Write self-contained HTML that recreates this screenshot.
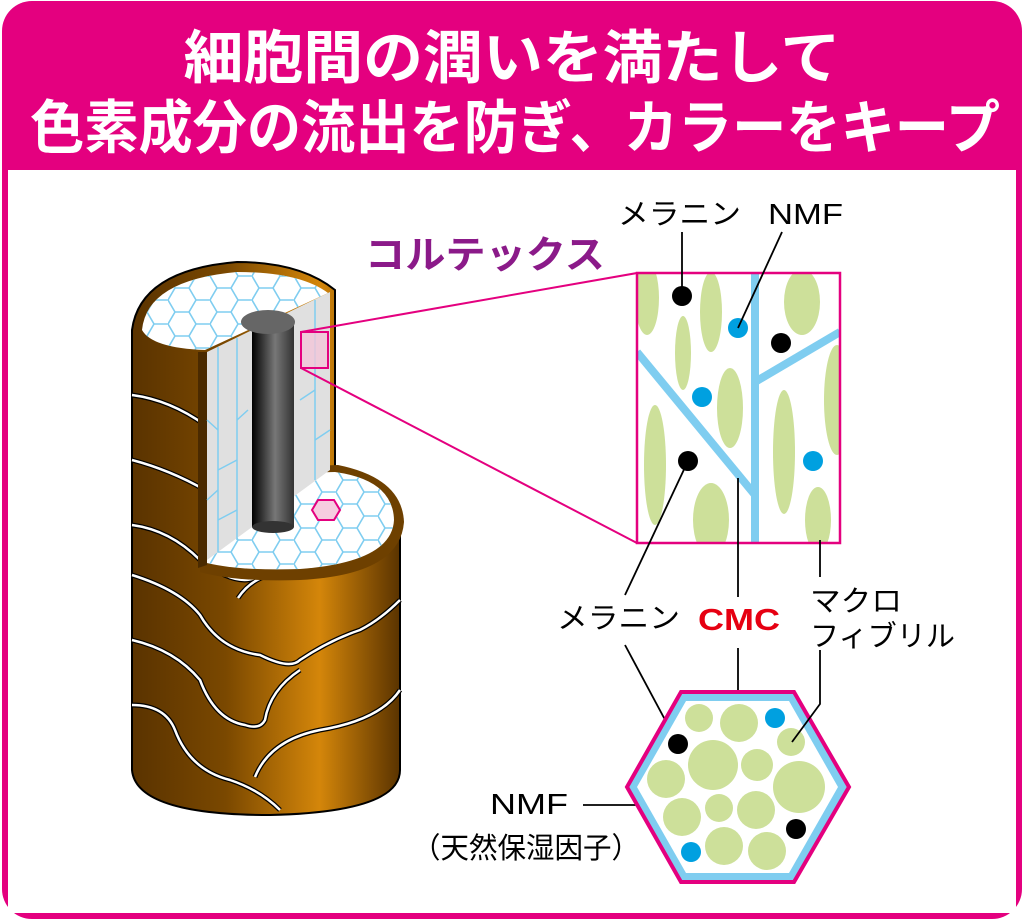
<!DOCTYPE html>
<html><head><meta charset="utf-8"><style>
html,body{margin:0;padding:0;background:#fff}
svg{display:block}
text{font-family:"Liberation Sans","Noto Sans CJK JP",sans-serif}
</style></head><body>
<svg width="1024" height="923" viewBox="0 0 1024 923" xmlns="http://www.w3.org/2000/svg">
<defs>
<pattern id="hex" width="42" height="24" patternUnits="userSpaceOnUse">
<path d="M0,12 L7,0 L21,0 L28,12 L21,24 L7,24 Z M28,12 L42,12" fill="none" stroke="#7fcdf0" stroke-width="1.6"/>
</pattern>
<linearGradient id="brown" x1="0" x2="1" y1="0" y2="0">
<stop offset="0" stop-color="#5a3300"/><stop offset="0.35" stop-color="#7a4800"/><stop offset="0.7" stop-color="#d4860a"/><stop offset="1" stop-color="#5a3300"/>
</linearGradient>
<linearGradient id="rod" x1="0" x2="1">
<stop offset="0" stop-color="#000"/><stop offset="0.55" stop-color="#777"/><stop offset="1" stop-color="#333"/>
</linearGradient>
<clipPath id="pc"><rect x="637" y="273" width="203" height="270"/></clipPath>
</defs>
<rect x="2" y="1" width="1020" height="918" rx="30" fill="#e4007f"/>
<rect x="8" y="170" width="1008" height="743" fill="#fff"/>
<text x="512" y="78" font-size="58" font-weight="bold" fill="#fff" text-anchor="middle" textLength="657" lengthAdjust="spacingAndGlyphs">細胞間の潤いを満たして</text>
<text x="515" y="148" font-size="58" font-weight="bold" fill="#fff" text-anchor="middle" textLength="970" lengthAdjust="spacingAndGlyphs">色素成分の流出を防ぎ、カラーをキープ</text>

<!-- cylinder -->
<path d="M132,330 L132,770 Q136,815 270,815 Q400,812 400,770 L400,520 L335,470 L335,290 Q300,262 237,262 Q140,270 132,330 Z" fill="url(#brown)" stroke="#000" stroke-width="2"/>
<g id="cr" fill="none" stroke="#000" stroke-width="5">
<path d="M132,395 Q170,400 205,425"/><path d="M132,460 Q170,470 205,490"/><path d="M132,525 Q170,530 200,560 Q240,590 260,575 Q280,560 300,570"/>
<path d="M132,575 Q180,590 200,615 Q220,650 260,655 Q290,670 300,660 Q330,640 360,630 Q380,620 400,600"/>
<path d="M132,640 Q175,650 200,680 Q215,720 245,725 Q260,730 265,720 Q270,690 300,670"/>
<path d="M132,705 Q165,705 175,730 Q190,770 230,780 Q260,790 280,810"/>
<path d="M255,777 Q270,740 320,730 Q380,720 400,690"/>
<path d="M238,598 Q250,580 270,575"/>
</g>
<g fill="none" stroke="#fff" stroke-width="2.5">
<path d="M132,395 Q170,400 205,425"/><path d="M132,460 Q170,470 205,490"/><path d="M132,525 Q170,530 200,560 Q240,590 260,575 Q280,560 300,570"/>
<path d="M132,575 Q180,590 200,615 Q220,650 260,655 Q290,670 300,660 Q330,640 360,630 Q380,620 400,600"/>
<path d="M132,640 Q175,650 200,680 Q215,720 245,725 Q260,730 265,720 Q270,690 300,670"/>
<path d="M132,705 Q165,705 175,730 Q190,770 230,780 Q260,790 280,810"/>
<path d="M255,777 Q270,740 320,730 Q380,720 400,690"/>
<path d="M238,598 Q250,580 270,575"/>
</g>
<!-- lower top face with rim -->
<path d="M200,572 L200,470 L338,465 Q402,478 404,522 Q400,575 300,580 Q235,582 200,572 Z" fill="#6e4000"/>
<path d="M207,563 L207,475 L335,472 Q393,480 394,520 Q392,562 300,569 Q240,571 207,563 Z" fill="#fff"/>
<path d="M207,563 L207,475 L335,472 Q393,480 394,520 Q392,562 300,569 Q240,571 207,563 Z" fill="url(#hex)"/>
<path d="M312,510 L318,500 L334,500 L340,510 L334,520 L318,520 Z" fill="#f6cde0" stroke="#e4007f" stroke-width="2"/>
<!-- upper top face -->
<path d="M142,330 Q147,280 237,272 Q300,272 328,293 L205,350 Q152,348 142,330 Z" fill="#fff"/>
<path d="M142,330 Q147,280 237,272 Q300,272 328,293 L205,350 Q152,348 142,330 Z" fill="url(#hex)"/>
<!-- cut face -->
<path d="M207,352 L330,292 L330,470 L207,560 Z" fill="#e0e0e0"/>
<path d="M198,352 L207,352 L207,565 L198,568 Z" fill="#4a2a00"/>
<g stroke="#7fcdf0" stroke-width="1.5" fill="none">
<line x1="218" y1="347" x2="218" y2="552"/><line x1="237" y1="338" x2="237" y2="540"/><line x1="315" y1="300" x2="315" y2="480"/>
<path d="M207,420 L218,430 M218,470 L237,460 M207,500 L218,490 M237,420 L248,410 M300,400 L315,390 M315,440 L330,430 M218,520 L237,510"/>
</g>
<rect x="252" y="322" width="42" height="205" fill="url(#rod)"/>
<ellipse cx="273" cy="527" rx="21" ry="6" fill="#333"/>
<ellipse cx="268" cy="322" rx="27" ry="12" fill="#666"/>
<rect x="301" y="332" width="27" height="36" fill="#f2c6d8" fill-opacity="0.8" stroke="#e4007f" stroke-width="2"/>
<line x1="301" y1="332" x2="637" y2="273" stroke="#e4007f" stroke-width="2"/>
<line x1="301" y1="368" x2="637" y2="543" stroke="#e4007f" stroke-width="2"/>

<text x="365" y="268" font-size="38" font-weight="bold" fill="#8b1a89" textLength="240" lengthAdjust="spacingAndGlyphs">コルテックス</text>

<!-- panel -->
<g clip-path="url(#pc)">
<rect x="637" y="273" width="203" height="270" fill="#fff"/>
<g fill="#cde09a">
<ellipse cx="647" cy="298" rx="12" ry="37"/><ellipse cx="711" cy="312" rx="11" ry="40"/><ellipse cx="683" cy="353" rx="8" ry="37"/>
<ellipse cx="802" cy="302" rx="18" ry="33"/><ellipse cx="730" cy="408" rx="13" ry="40"/><ellipse cx="837" cy="400" rx="13" ry="55"/>
<ellipse cx="655" cy="465" rx="11" ry="60"/><ellipse cx="784" cy="452" rx="11" ry="62"/><ellipse cx="711" cy="520" rx="18" ry="37"/><ellipse cx="818" cy="520" rx="13" ry="33"/>
</g>
<g stroke="#7fcdf0" stroke-width="8" fill="none">
<line x1="755" y1="273" x2="755" y2="543"/><line x1="637" y1="352" x2="755" y2="495"/><line x1="755" y1="382" x2="840" y2="332"/>
</g>
<g fill="#000"><circle cx="682" cy="296" r="10"/><circle cx="781" cy="343" r="10"/><circle cx="688" cy="461" r="10"/></g>
<g fill="#00a0e0"><circle cx="738" cy="328" r="10"/><circle cx="702" cy="397" r="10"/><circle cx="813" cy="461" r="10"/></g>
</g>
<rect x="637" y="273" width="203" height="270" fill="none" stroke="#e4007f" stroke-width="2.5"/>

<g font-size="29" fill="#000">
<text x="618" y="224" textLength="123" lengthAdjust="spacingAndGlyphs">メラニン</text>
<text x="768" y="224" textLength="75" lengthAdjust="spacingAndGlyphs">NMF</text>
<text x="557" y="628" textLength="123" lengthAdjust="spacingAndGlyphs">メラニン</text>
<text x="810" y="611" textLength="92" lengthAdjust="spacingAndGlyphs">マクロ</text>
<text x="810" y="646" textLength="145" lengthAdjust="spacingAndGlyphs">フィブリル</text>
<text x="490" y="814" textLength="78" lengthAdjust="spacingAndGlyphs">NMF</text>
<text x="412" y="858" textLength="228" lengthAdjust="spacingAndGlyphs">（天然保湿因子）</text>
</g>
<text x="698" y="630" font-size="31" font-weight="bold" fill="#e60012" textLength="82" lengthAdjust="spacingAndGlyphs">CMC</text>
<g stroke="#000" stroke-width="1.8" fill="none">
<line x1="682" y1="232" x2="682" y2="292"/><line x1="782" y1="232" x2="738" y2="328"/>
<line x1="688" y1="461" x2="625" y2="595"/><line x1="738" y1="478" x2="738" y2="597"/><line x1="820" y1="540" x2="820" y2="577"/>
<line x1="625" y1="645" x2="678" y2="744"/><line x1="738" y1="648" x2="738" y2="692"/>
<line x1="583" y1="805" x2="658" y2="805"/>
</g>

<!-- hexagon -->
<polygon points="681,692 794,692 849,787 794,882 681,882 627,787" fill="#7fcdf0" stroke="#e4007f" stroke-width="4"/>
<polygon points="686,701 789,701 838,787 789,873 686,873 637,787" fill="#fff"/>
<g fill="#cde09a">
<circle cx="699" cy="718" r="14"/><circle cx="739" cy="723" r="19"/><circle cx="791" cy="742" r="14"/><circle cx="713" cy="765" r="25"/>
<circle cx="757" cy="765" r="16"/><circle cx="799" cy="787" r="26"/><circle cx="666" cy="779" r="19"/><circle cx="682" cy="817" r="19"/>
<circle cx="719" cy="808" r="14"/><circle cx="756" cy="810" r="19"/><circle cx="724" cy="846" r="19"/><circle cx="767" cy="851" r="19"/>
</g>
<g fill="#000"><circle cx="678" cy="744" r="10"/><circle cx="796" cy="829" r="10"/></g>
<g fill="#00a0e0"><circle cx="775" cy="718" r="10"/><circle cx="691" cy="852" r="10"/></g>
<polyline points="820,650 820,704 792,742" stroke="#000" stroke-width="1.8" fill="none"/>
</svg>
</body></html>
